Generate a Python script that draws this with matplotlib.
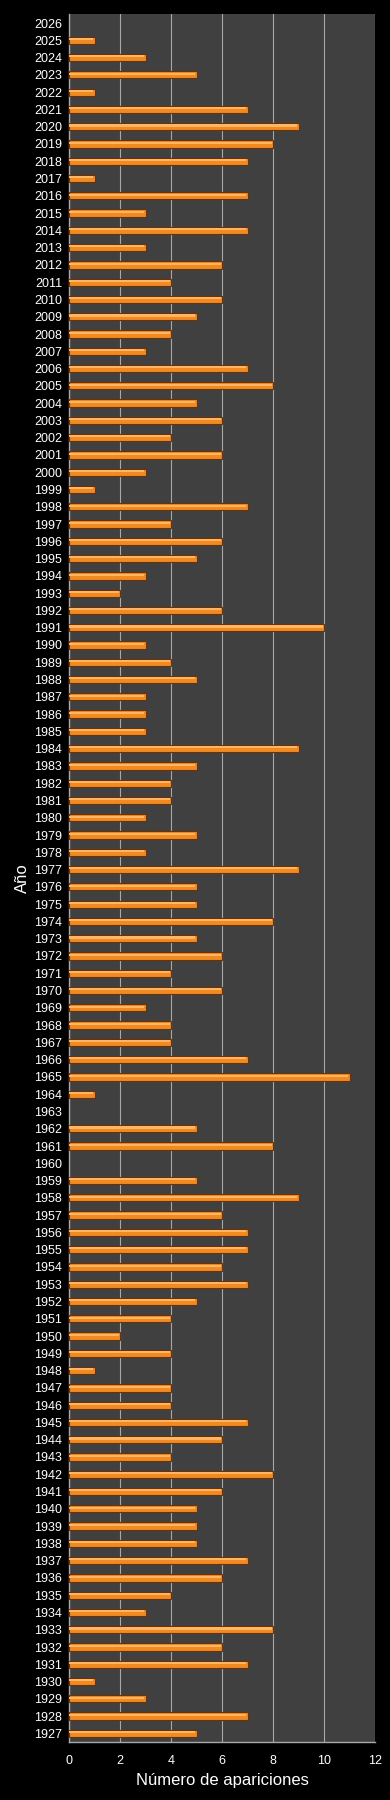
import matplotlib
matplotlib.use("Agg")
import matplotlib.pyplot as plt

# Años (de 1927 a 2026) y número de apariciones
years = list(range(1927, 2027))
counts = [
    5, 7, 3, 1, 7, 6, 8, 3, 4, 6,      # 1927-1936
    7, 5, 5, 5, 6, 8, 4, 6, 7, 4,      # 1937-1946
    4, 1, 4, 2, 4, 5, 7, 6, 7, 7,      # 1947-1956
    6, 9, 5, 0, 8, 5, 0, 1, 11, 7,     # 1957-1966
    4, 4, 3, 6, 4, 6, 5, 8, 5, 5,      # 1967-1976
    9, 3, 5, 3, 4, 4, 5, 9, 3, 3,      # 1977-1986
    3, 5, 4, 3, 10, 6, 2, 3, 5, 6,     # 1987-1996
    4, 7, 1, 3, 6, 4, 6, 5, 8, 7,      # 1997-2006
    3, 4, 5, 6, 4, 6, 3, 7, 3, 7,      # 2007-2016
    1, 7, 8, 9, 7, 1, 5, 3, 1, 0,      # 2017-2026
]
xticks = [0, 2, 4, 6, 8, 10, 12]

plt.rcParams['font.family'] = ['Liberation Sans', 'DejaVu Sans']

fig = plt.figure(figsize=(3.9, 18), dpi=100, facecolor='black')
ax = fig.add_axes([0.177, 0.0322, 0.785, 0.9598])
ax.set_facecolor('#404040')

pos = list(range(len(years)))
# pas de contour pour les barres vides
edges = ['#6B3208' if c > 0 else 'none' for c in counts]
ax.barh(pos, counts, height=0.42, color='#F28A22', edgecolor=edges, linewidth=0.8, zorder=3)
# reflet clair sur le haut des barres
ax.barh([p + 0.07 for p in pos], [max(c - 0.06, 0) for c in counts], height=0.12,
        color='#FFB566', linewidth=0, zorder=4)

ax.set_xlim(0, 12)
ax.set_ylim(-0.5, len(years) - 0.5)
ax.set_xticks(xticks)
ax.set_yticks(pos)
ax.set_yticklabels([str(y) for y in years])
ax.tick_params(axis='both', colors='white', labelsize=9, length=0)
ax.tick_params(axis='x', pad=9)
ax.tick_params(axis='y', pad=5)

ax.grid(axis='x', color='#A8A8A8', linewidth=0.8, zorder=1)
ax.grid(axis='y', visible=False)
for side in ['top', 'right']:
    ax.spines[side].set_visible(False)
for side in ['left', 'bottom']:
    ax.spines[side].set_color('#A8A8A8')
    ax.spines[side].set_linewidth(1)

ax.set_xlabel('Número de apariciones', color='white', fontsize=12, labelpad=5)
ax.set_ylabel('Año', color='white', fontsize=12, labelpad=3)

fig.savefig('out.png', dpi=100, facecolor='black')
